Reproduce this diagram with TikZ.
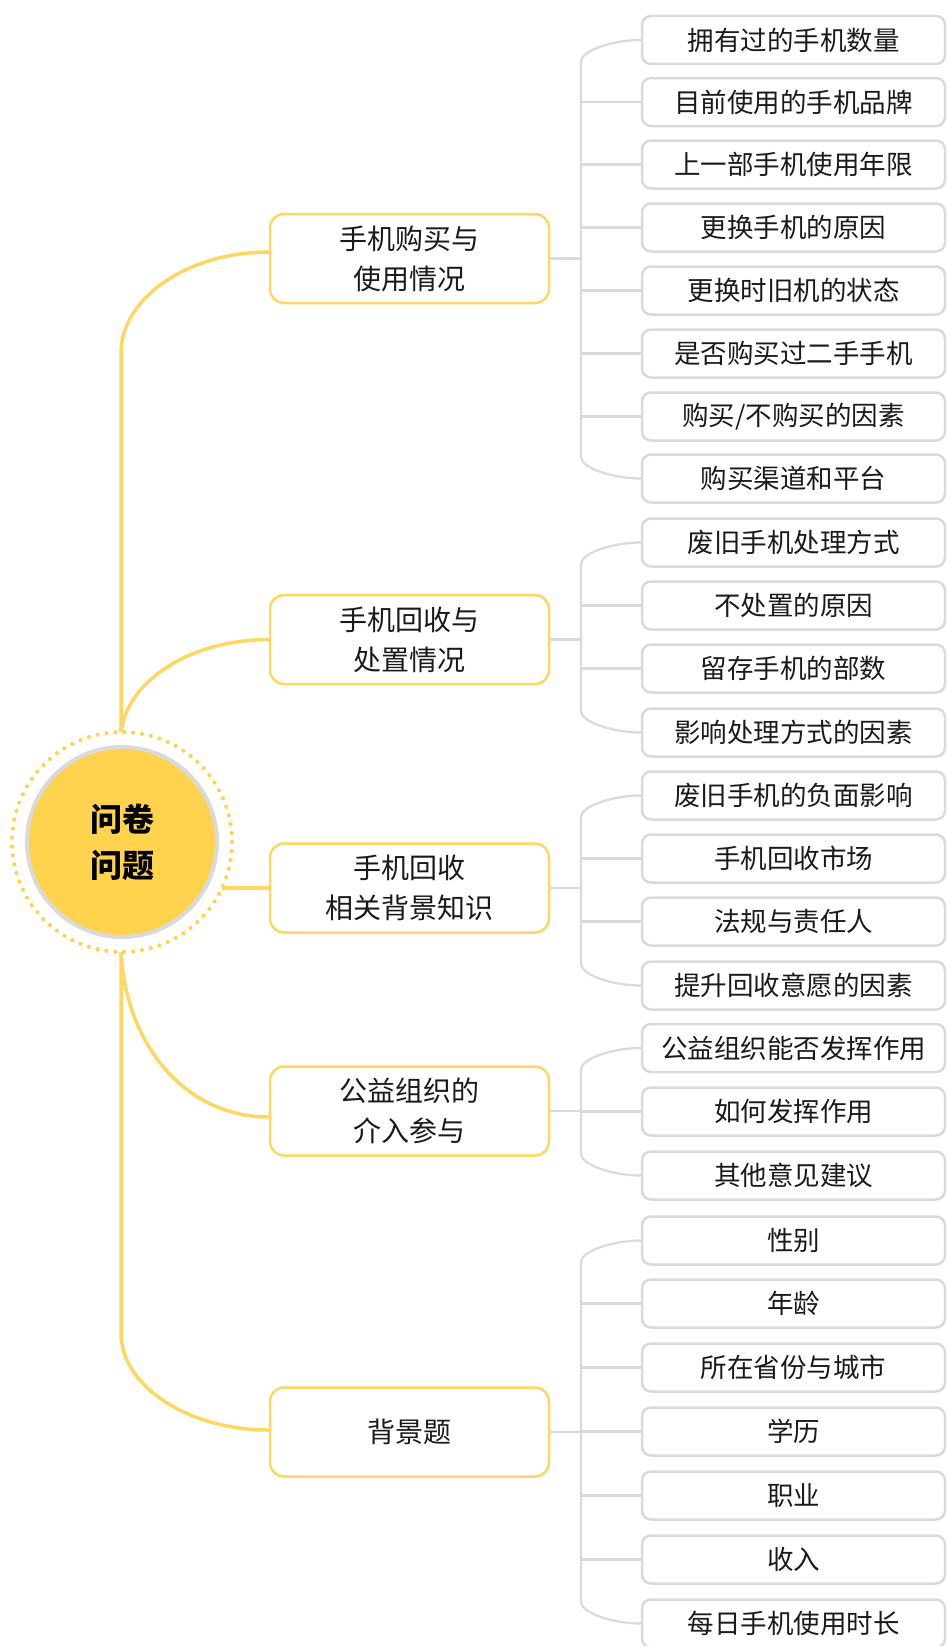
\documentclass[tikz,border=0pt]{standalone}
\usepackage{fontspec}
\newfontfamily\cjk{Noto Sans CJK SC}
\usetikzlibrary{calc}
\definecolor{ylw}{HTML}{FFD34E}
\definecolor{ylwline}{HTML}{FFD760}
\definecolor{gry}{HTML}{DADADA}
\definecolor{txt}{HTML}{1A1A1A}
\begin{document}
\begin{tikzpicture}[x=1pt,y=-1pt,
  lvone/.style={draw=ylwline, line width=2.5pt, rounded corners=14pt, fill=white,
    minimum width=279pt, minimum height=89pt, align=center, inner sep=0pt,
    font=\cjk\fontsize{28}{40}\selectfont, text=txt},
  lvtwo/.style={draw=gry, line width=2.5pt, rounded corners=9pt, fill=white,
    minimum width=303pt, minimum height=48pt, inner sep=0pt,
    font=\cjk\fontsize{26.5}{30}\selectfont, text=txt},
  mainlink/.style={draw=ylwline, line width=3.5pt},
  sublink/.style={draw=gry, line width=2.2pt}]
\useasboundingbox (0,0) rectangle (947,1646);
\fill[white] (0,0) rectangle (947,1646);

% spine reference
\coordinate (s1) at (581,0);

% root
\node[circle, fill=ylw, draw=gry, line width=4pt, minimum size=190pt, align=center,
  font=\cjk\bfseries\fontsize{32}{46}\selectfont, text=black, inner sep=0pt] (root) at (122,842) {问卷\\问题};
\draw[ylw, line width=4.2pt, line cap=round, dash pattern=on 0pt off 8.976pt] (root.center) circle[radius=110pt];
\coordinate (rt) at (121,732);
\coordinate (rb) at (121,952);
\coordinate (rr) at (222,888);

% level one
\node[lvone] (b1) at (409.5,258.5) {手机购买与\\使用情况};
\node[lvone] (b2) at (409.5,639.5) {手机回收与\\处置情况};
\node[lvone] (b3) at (409.5,888) {手机回收\\相关背景知识};
\node[lvone] (b4) at (409.5,1111) {公益组织的\\介入参与};
\node[lvone] (b5) at (409.5,1432) {背景题};

% level two
\node[lvtwo] (c1) at (793.5,40) {拥有过的手机数量};
\node[lvtwo] (c2) at (793.5,102) {目前使用的手机品牌};
\node[lvtwo] (c3) at (793.5,164.5) {上一部手机使用年限};
\node[lvtwo] (c4) at (793.5,227.5) {更换手机的原因};
\node[lvtwo] (c5) at (793.5,290.5) {更换时旧机的状态};
\node[lvtwo] (c6) at (793.5,353.5) {是否购买过二手手机};
\node[lvtwo] (c7) at (793.5,416.5) {购买/不购买的因素};
\node[lvtwo] (c8) at (793.5,478.5) {购买渠道和平台};
\node[lvtwo] (c9) at (793.5,542.5) {废旧手机处理方式};
\node[lvtwo] (c10) at (793.5,605.5) {不处置的原因};
\node[lvtwo] (c11) at (793.5,668.5) {留存手机的部数};
\node[lvtwo] (c12) at (793.5,732.5) {影响处理方式的因素};
\node[lvtwo] (c13) at (793.5,795.5) {废旧手机的负面影响};
\node[lvtwo] (c14) at (793.5,858.5) {手机回收市场};
\node[lvtwo] (c15) at (793.5,921.5) {法规与责任人};
\node[lvtwo] (c16) at (793.5,985.5) {提升回收意愿的因素};
\node[lvtwo] (c17) at (793.5,1048) {公益组织能否发挥作用};
\node[lvtwo] (c18) at (793.5,1111.5) {如何发挥作用};
\node[lvtwo] (c19) at (793.5,1175.5) {其他意见建议};
\node[lvtwo] (c20) at (793.5,1240.5) {性别};
\node[lvtwo] (c21) at (793.5,1303.5) {年龄};
\node[lvtwo] (c22) at (793.5,1367.5) {所在省份与城市};
\node[lvtwo] (c23) at (793.5,1431.5) {学历};
\node[lvtwo] (c24) at (793.5,1495.5) {职业};
\node[lvtwo] (c25) at (793.5,1559.5) {收入};
\node[lvtwo] (c26) at (793.5,1623.5) {每日手机使用时长};

% main connectors
\draw[mainlink] (rt) -- (121,353) .. controls (121,298) and (188,252) .. (b1.west |- 0,252);
\draw[mainlink] (rt) .. controls (127,682) and (188,640) .. (b2.west);
\draw[mainlink] (rr) -- (b3.west);
\draw[mainlink] (rb) .. controls (126,1046) and (186,1117) .. (b4.west |- 0,1117);
\draw[mainlink] (rb) -- (121,1333) .. controls (121,1386) and (188,1430) .. (b5.west |- 0,1430);

% group connectors
\foreach \p/\a/\z/\mids in {b1/c1/c8/{c2,c3,c4,c5,c6,c7}, b2/c9/c12/{c10,c11}, b3/c13/c16/{c14,c15}, b4/c17/c19/{c18}, b5/c20/c26/{c21,c22,c23,c24,c25}}{
  \draw[sublink] (\p.east) -- (\p.east -| s1);
  \draw[sublink] (\a.west) .. controls ($(\a.west)+(-27,0)$) and ($(\a.west -| s1)+(0,10)$) .. ($(\a.west -| s1)+(0,22)$)
     -- ($(\z.west -| s1)+(0,-22)$) .. controls ($(\z.west -| s1)+(0,-10)$) and ($(\z.west)+(-27,0)$) .. (\z.west);
  \foreach \m in \mids { \draw[sublink] (\m.west -| s1) -- (\m.west); }
}
\end{tikzpicture}
\end{document}
